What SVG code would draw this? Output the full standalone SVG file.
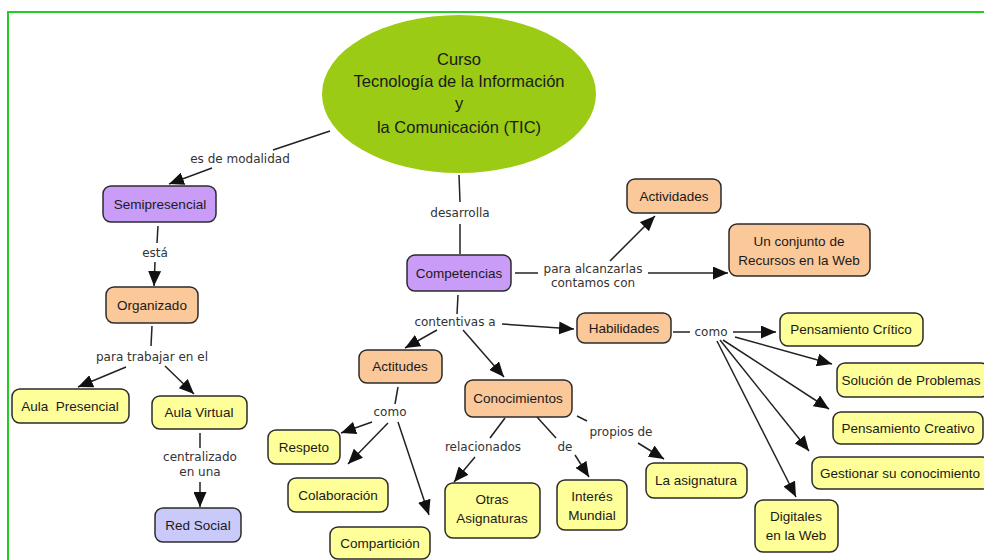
<svg xmlns="http://www.w3.org/2000/svg" width="984" height="560" viewBox="0 0 984 560">
<style>
.n{stroke:#2b2b2b;stroke-width:1.5}
.y{fill:#ffff99}.o{fill:#fbc899}.p{fill:#c99cf7}.b{fill:#c9c9fa}
.t{font-family:"Liberation Sans",Arial,sans-serif;font-size:13.5px;fill:#1a1a1a;text-anchor:middle}
.e{font-family:"Liberation Sans",Arial,sans-serif;font-size:16.5px;fill:#1a1a1a;text-anchor:middle}
.l{font-family:"DejaVu Sans",Verdana,sans-serif;font-size:12px;fill:#333;text-anchor:middle}
#c line{stroke:#222;stroke-width:1.5}
#c line.a{marker-end:url(#ah)}
</style>
<defs>
<marker id="ah" markerUnits="userSpaceOnUse" markerWidth="15" markerHeight="13" refX="15" refY="6.5" orient="auto">
<path d="M0,0 L15,6.5 L0,13 z" fill="#111"/>
</marker>
</defs>
<rect width="984" height="560" fill="#fff"/>
<rect x="8" y="12" width="1000" height="600" fill="none" stroke="#22cc22" stroke-width="2"/>
<g id="c">
<line x1="330" y1="131" x2="273" y2="150"/>
<line class="a" x1="212" y1="168" x2="169" y2="184"/>
<line x1="158" y1="226" x2="157" y2="243"/>
<line class="a" x1="155" y1="262" x2="154" y2="286"/>
<line x1="152" y1="326" x2="151" y2="346"/>
<line class="a" x1="126" y1="367" x2="78" y2="387"/>
<line class="a" x1="165" y1="366" x2="194" y2="394"/>
<line x1="200" y1="433" x2="200" y2="448"/>
<line class="a" x1="200" y1="482" x2="200" y2="507"/>
<line x1="459" y1="175" x2="460" y2="202"/>
<line x1="460" y1="224" x2="460" y2="254"/>
<line x1="515" y1="273" x2="538" y2="273"/>
<line class="a" x1="610" y1="261" x2="655" y2="216"/>
<line class="a" x1="648" y1="273" x2="728" y2="273"/>
<line x1="458" y1="295" x2="457" y2="314"/>
<line class="a" x1="502" y1="324" x2="574" y2="329"/>
<line class="a" x1="437" y1="330" x2="405" y2="348"/>
<line class="a" x1="463" y1="330" x2="504" y2="377"/>
<line x1="398" y1="387" x2="395" y2="404"/>
<line class="a" x1="372" y1="422" x2="341" y2="433"/>
<line class="a" x1="388" y1="423" x2="348" y2="464"/>
<line class="a" x1="398" y1="422" x2="429" y2="515"/>
<line x1="505" y1="418" x2="490" y2="438"/>
<line class="a" x1="475" y1="457" x2="454" y2="482"/>
<line x1="537" y1="417" x2="556" y2="438"/>
<line class="a" x1="575" y1="455" x2="589" y2="477"/>
<line x1="577" y1="416" x2="587" y2="421"/>
<line class="a" x1="638" y1="443" x2="664" y2="459"/>
<line x1="673" y1="332" x2="690" y2="332"/>
<line class="a" x1="733" y1="332" x2="776" y2="332"/>
<line class="a" x1="735" y1="337" x2="832" y2="364"/>
<line class="a" x1="723" y1="340" x2="829" y2="409"/>
<line class="a" x1="720" y1="340" x2="809" y2="451"/>
<line class="a" x1="717" y1="341" x2="796" y2="497"/>
<text class="l" x="240" y="163">es de modalidad</text>
<text class="l" x="155" y="257">está</text>
<text class="l" x="152" y="361">para trabajar en el</text>
<text class="l" x="200" y="461">centralizado</text>
<text class="l" x="200" y="476">en una</text>
<text class="l" x="460" y="217">desarrolla</text>
<text class="l" x="593" y="273">para alcanzarlas</text>
<text class="l" x="593" y="287">contamos con</text>
<text class="l" x="455" y="326">contentivas a</text>
<text class="l" x="390" y="416">como</text>
<text class="l" x="483" y="451">relacionados</text>
<text class="l" x="565" y="451">de</text>
<text class="l" x="621" y="436">propios de</text>
<text class="l" x="711" y="336">como</text>
</g>
<g id="tic">
<ellipse cx="459" cy="94" rx="137" ry="79" fill="#9bcb14"/>
<text class="e" x="459" y="65">Curso</text>
<text class="e" x="459" y="87">Tecnología de la Información</text>
<text class="e" x="459" y="109">y</text>
<text class="e" x="459" y="133">la Comunicación (TIC)</text>
</g>
<g id="semipresencial"><rect class="n p" x="103" y="186" width="113" height="36" rx="8"/><text class="t" x="160" y="209">Semipresencial</text></g>
<g id="organizado"><rect class="n o" x="106" y="287" width="92" height="36" rx="8"/><text class="t" x="152" y="310">Organizado</text></g>
<g id="aulapresencial"><rect class="n y" x="12" y="389" width="117" height="34" rx="8"/><text class="t" x="70" y="411" xml:space="preserve">Aula  Presencial</text></g>
<g id="aulavirtual"><rect class="n y" x="152" y="396" width="95" height="33" rx="8"/><text class="t" x="199" y="417">Aula Virtual</text></g>
<g id="redsocial"><rect class="n b" x="155" y="508" width="86" height="34" rx="8"/><text class="t" x="198" y="530">Red Social</text></g>
<g id="competencias"><rect class="n p" x="407" y="255" width="104" height="36" rx="8"/><text class="t" x="459" y="278">Competencias</text></g>
<g id="actividades"><rect class="n o" x="627" y="179" width="94" height="34" rx="8"/><text class="t" x="674" y="201">Actividades</text></g>
<g id="recursos"><rect class="n o" x="729" y="224" width="141" height="52" rx="8"/><text class="t" x="799" y="246">Un conjunto de</text><text class="t" x="799" y="265">Recursos en la Web</text></g>
<g id="habilidades"><rect class="n o" x="577" y="313" width="94" height="30" rx="8"/><text class="t" x="624" y="333">Habilidades</text></g>
<g id="actitudes"><rect class="n o" x="359" y="350" width="83" height="33" rx="8"/><text class="t" x="400" y="371">Actitudes</text></g>
<g id="conocimientos"><rect class="n o" x="465" y="380" width="107" height="37" rx="8"/><text class="t" x="518" y="403">Conocimientos</text></g>
<g id="respeto"><rect class="n y" x="268" y="430" width="72" height="34" rx="8"/><text class="t" x="304" y="452">Respeto</text></g>
<g id="colaboracion"><rect class="n y" x="288" y="478" width="100" height="34" rx="8"/><text class="t" x="338" y="500">Colaboración</text></g>
<g id="comparticion"><rect class="n y" x="330" y="527" width="100" height="32" rx="8"/><text class="t" x="380" y="548">Compartición</text></g>
<g id="otras"><rect class="n y" x="445" y="483" width="95" height="55" rx="8"/><text class="t" x="492" y="504">Otras</text><text class="t" x="492" y="523">Asignaturas</text></g>
<g id="interes"><rect class="n y" x="557" y="480" width="70" height="50" rx="8"/><text class="t" x="592" y="501">Interés</text><text class="t" x="592" y="520">Mundial</text></g>
<g id="laasignatura"><rect class="n y" x="646" y="463" width="101" height="35" rx="8"/><text class="t" x="696" y="485">La asignatura</text></g>
<g id="critico"><rect class="n y" x="780" y="313" width="143" height="33" rx="8"/><text class="t" x="851" y="334">Pensamiento Crítico</text></g>
<g id="solucion"><rect class="n y" x="837" y="363" width="152" height="34" rx="8"/><text class="t" x="911" y="385">Solución de Problemas</text></g>
<g id="creativo"><rect class="n y" x="833" y="412" width="150" height="32" rx="8"/><text class="t" x="908" y="433">Pensamiento Creativo</text></g>
<g id="gestionar"><rect class="n y" x="812" y="457" width="178" height="32" rx="8"/><text class="t" x="900" y="478">Gestionar su conocimiento</text></g>
<g id="digitales"><rect class="n y" x="755" y="500" width="83" height="52" rx="8"/><text class="t" x="796" y="521">Digitales</text><text class="t" x="796" y="540">en la Web</text></g>
</svg>
